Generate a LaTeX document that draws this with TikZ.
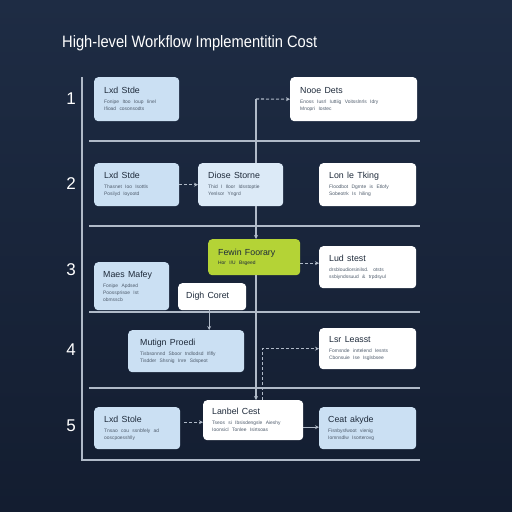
\documentclass[tikz,border=0pt]{standalone}
\usepackage{fontspec}
\setmainfont{Liberation Sans}
\usetikzlibrary{arrows.meta,calc}
\definecolor{bgtop}{HTML}{1E2C44}
\definecolor{bgbot}{HTML}{131D30}
\definecolor{lblue}{HTML}{CBE0F3}
\definecolor{pblue}{HTML}{DCEAF7}
\definecolor{lgreen}{HTML}{B4D336}
\definecolor{linec}{HTML}{B0BAC8}
\definecolor{ttxt}{HTML}{1E2A3A}
\definecolor{btxt}{HTML}{4F5C6C}
\newcommand{\tfont}{\fontsize{8.8}{10}\selectfont\color{ttxt}}
\newcommand{\bfnt}{\fontsize{4.9}{7}\selectfont\color{btxt}}
\tikzset{
  card/.style={rounded corners=4pt, draw=none, anchor=north west, inner xsep=10pt, inner ysep=4pt, align=left},
  bluecard/.style={card, fill=lblue},
  palecard/.style={card, fill=pblue},
  whitecard/.style={card, fill=white},
  greencard/.style={card, fill=lgreen},
  rule/.style={linec, line width=1.1pt},
  flow/.style={linec, line width=1.1pt, -{Stealth[length=4pt,width=4pt]}},
  dflow/.style={flow, dash pattern=on 3pt off 2pt},
  rownum/.style={text=white, font=\fontsize{17}{17}\selectfont},
}
\begin{document}
\begin{tikzpicture}[x=1pt,y=-1pt]
\fill[top color=bgtop, bottom color=bgbot] (0,0) rectangle (512,512);
\useasboundingbox (0,0) rectangle (512,512);

\node[anchor=west, text=white, inner sep=0] (title) at (62,43) {\fontsize{16.5}{16.5}\selectfont\scalebox{0.89}[1]{High-level Workflow Implementitin Cost}};

% frame
\coordinate (ftop) at (82,77);
\coordinate (fbot) at (82,460);
\coordinate (fend) at (420,460);
\draw[rule] (ftop) -- (fbot) -- (fend);
\foreach \yy/\nm in {141/a,226/b,312/c,388/d}{
  \coordinate (sl\nm) at (89,\yy);
  \coordinate (sr\nm) at (420,\yy);
  \draw[rule] (sl\nm) -- (sr\nm);
}

% row numbers
\node[rownum] (n1) at (71,99) {1};
\node[rownum] (n2) at (71,184) {2};
\node[rownum] (n3) at (71,270) {3};
\node[rownum] (n4) at (71,350) {4};
\node[rownum] (n5) at (71,426) {5};

% row 1
\node[bluecard, minimum width=85, minimum height=44, text width=65] (A) at (94,77)
  {{\tfont Lxd Stde\par}\vspace{3pt}{\bfnt Fonipe Itoo Ioup Iinel\\Ifioad cosonsodts\par}};
\node[whitecard, minimum width=127, minimum height=44, text width=107] (B) at (290,77)
  {{\tfont Nooe Dets\par}\vspace{3pt}{\bfnt Enoss Iusrl Iuttiig Voitsslnrls Idry\\Mnopri Iostec\par}};

% row 2
\node[bluecard, minimum width=85, minimum height=43, text width=65] (C) at (94,163)
  {{\tfont Lxd Stde\par}\vspace{3pt}{\bfnt Thasnet Ioo Isottls\\Posilyd Ioyootd\par}};
\node[palecard, minimum width=85, minimum height=43, text width=65] (D) at (198,163)
  {{\tfont Diose Storne\par}\vspace{3pt}{\bfnt Thid I Iloor Idsstoptie\\Yenlsor Yngrd\par}};
\node[whitecard, minimum width=97, minimum height=43, text width=77] (E) at (319,163)
  {{\tfont Lon le Tking\par}\vspace{3pt}{\bfnt Floodbot Dgrnte is Etlofy\\Sobeotrk Is hiling\par}};

% row 3
\node[greencard, minimum width=92, minimum height=36, text width=72] (F) at (208,239)
  {{\tfont Fewin Foorary\par}\vspace{2pt}{\bfnt\color{ttxt} Hor I/U Bsgeed\par}};
\node[whitecard, minimum width=97, minimum height=42, text width=77] (G) at (319,246)
  {{\tfont Lud stest\par}\vspace{3pt}{\bfnt drsbloudiorsinilsd. otsts\\ssbiyndssuud \& trpdsyul\par}};
\node[bluecard, minimum width=75, minimum height=48, text width=57, inner xsep=9pt] (H) at (94,262)
  {{\tfont Maes Mafey\par}\vspace{3pt}{\bfnt Fonipe Apdsed\\Poossprisoe Ist\\obmsscb\par}};
\node[whitecard, minimum width=68, minimum height=27, text width=52, inner xsep=8pt] (I) at (178,283)
  {{\tfont Digh Coret\par}};

% row 4
\node[bluecard, minimum width=116, minimum height=42, text width=92, inner xsep=12pt] (J) at (128,330)
  {{\tfont Mutign Proedi\par}\vspace{3pt}{\bfnt Tisbsonnnd Sboor tndlodsd Ififly\\Tisdder Shsnig Inre Sdspeot\par}};
\node[whitecard, minimum width=97, minimum height=41, text width=77] (K) at (319,328)
  {{\tfont Lsr Leasst\par}\vspace{3pt}{\bfnt Fomsnde inrtelend Iesnts\\Cbonsuie Ise Isglsbsee\par}};

% row 5
\node[bluecard, minimum width=86, minimum height=42, text width=66] (L) at (94,407)
  {{\tfont Lxd Stole\par}\vspace{3pt}{\bfnt Tnsao cou ssnbfely ad\\ooscpoesshlly\par}};
\node[whitecard, minimum width=100, minimum height=40, text width=82, inner xsep=9pt] (M) at (203,400)
  {{\tfont Lanbel Cest\par}\vspace{3pt}{\bfnt Tseos si Ibsisdengsle Aieshy\\Ioonsicl Tonlee Isirtsoas\par}};
\node[bluecard, minimum width=97, minimum height=42, text width=79, inner xsep=9pt] (N) at (319,407)
  {{\tfont Ceat akyde\par}\vspace{3pt}{\bfnt Fisnbysfwoot vienig\\Iomnsdlw Isorterovg\par}};

% connectors
\coordinate (s1) at (256,99);
\draw[dflow] (s1) -- (B.west);
\draw[rule] (s1) -- (s1 |- D.north);
\draw[flow] (s1 |- D.south) -- (s1 |- F.north);
\draw[flow] (s1 |- F.south) -- (s1 |- M.north);
\draw[dflow] ($(M.north)+(9,0)$) |- (K.west);
\draw[dflow] (C.east) -- (D.west);
\draw[dflow] ($(F.east)+(0,6)$) -- ($(F.east -| G.west)+(0,6)$);
\draw[flow] ($(I.south)+(-3,0)$) -- ($(I.south |- J.north)+(-3,0)$);
\draw[dflow] ($(L.east |- M.west)+(4,2)$) -- ($(M.west)+(0,2)$);
\draw[flow] ($(M.east)+(0,7)$) -- ($(M.east -| N.west)+(0,7)$);
\end{tikzpicture}
\end{document}
